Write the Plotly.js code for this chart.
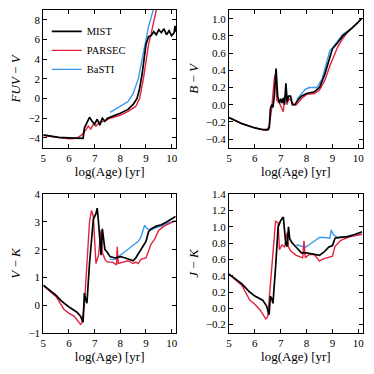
<!DOCTYPE html>
<html>
<head>
<meta charset="utf-8">
<script src="https://cdn.plot.ly/plotly-3.0.1.min.js"></script>
<style>html,body{margin:0;padding:0;background:#fff}#chart{width:374px;height:374px}</style>
</head>
<body>
<div id="chart"></div>
<script>
// ---------- FUV - V ----------
const fuvMistX = [5.0,5.3,5.6,6.0,6.3,6.55,6.6,6.7,6.8,6.9,7.0,7.1,7.2,7.3,7.4,7.5,7.7,8.0,8.3,8.5,8.65,8.75,8.85,8.92,9.0,9.1,9.2,9.3,9.4,9.5,9.6,9.7,9.8,9.9,10.0,10.1,10.13,10.15];
const fuvMistY = [-3.7,-3.85,-3.95,-4.0,-4.05,-4.05,-3.0,-2.4,-1.9,-2.3,-2.6,-2.1,-2.7,-2.0,-2.3,-2.0,-1.8,-1.5,-1.1,-0.6,0.0,1.0,2.5,4.0,5.5,6.3,6.4,6.8,6.5,7.0,6.7,7.1,6.5,6.9,6.4,6.7,7.4,6.8];
const fuvParX = [5.0,5.4,5.8,6.0,6.3,6.5,6.65,6.75,6.85,6.95,7.05,7.2,7.4,7.6,8.0,8.3,8.6,8.75,8.9,9.0,9.1,9.2,9.32,9.42];
const fuvParY = [-3.75,-3.9,-4.05,-4.1,-4.05,-3.7,-3.2,-2.8,-3.1,-2.6,-2.8,-2.4,-2.3,-2.0,-1.7,-1.3,-0.8,0.0,2.0,4.0,5.5,6.6,8.0,9.2];
const fuvBasX = [7.6,8.0,8.3,8.5,8.7,8.85,9.0,9.1,9.3];
const fuvBasY = [-1.4,-0.8,-0.3,0.5,2.0,4.0,6.0,7.3,9.2];

// ---------- B - V ----------
const bvMistX = [5.0,5.5,6.0,6.3,6.52,6.56,6.6,6.65,6.7,6.75,6.82,6.88,6.95,7.0,7.05,7.1,7.15,7.2,7.25,7.3,7.38,7.45,7.55,7.65,7.8,8.0,8.3,8.5,8.7,8.9,9.0,9.2,9.4,9.6,9.8,10.0,10.12];
const bvMistY = [-0.15,-0.22,-0.27,-0.29,-0.29,-0.26,-0.05,0.0,-0.03,0.1,0.42,0.1,0.02,0.07,0.02,0.08,0.0,0.25,0.03,0.1,0.1,0.0,0.0,0.05,0.1,0.13,0.15,0.2,0.35,0.55,0.65,0.72,0.8,0.85,0.9,0.96,1.0];
const bvParX = [5.0,5.5,6.0,6.45,6.55,6.65,6.75,6.8,6.85,6.95,7.05,7.1,7.15,7.2,7.25,7.3,7.4,7.5,7.6,7.8,8.0,8.3,8.5,8.7,8.9,9.1,9.2,9.4,9.6,9.8,10.0,10.12];
const bvParY = [-0.15,-0.22,-0.27,-0.3,-0.25,-0.05,0.3,0.36,0.05,0.02,-0.05,-0.08,0.1,0.1,0.0,0.07,0.05,0.0,0.0,0.07,0.12,0.13,0.17,0.28,0.45,0.6,0.67,0.77,0.85,0.9,0.96,1.0];
const bvBasX = [7.62,7.8,7.95,8.1,8.4,8.6,8.75,8.9,9.0,9.2,9.4,9.6,9.8,10.0,10.12];
const bvBasY = [0.06,0.12,0.18,0.2,0.2,0.3,0.45,0.63,0.66,0.74,0.82,0.86,0.9,0.96,1.0];

// ---------- V - K ----------
const vkMistX = [5.0,5.5,5.7,6.0,6.3,6.45,6.55,6.6,6.65,6.7,6.8,6.9,6.95,7.05,7.1,7.15,7.2,7.25,7.3,7.35,7.4,7.5,7.6,7.8,8.0,8.2,8.4,8.5,8.6,8.7,8.8,8.9,9.0,9.1,9.2,9.4,9.6,9.8,10.0,10.15];
const vkMistY = [0.72,0.35,0.15,-0.07,-0.25,-0.4,-0.62,0.43,0.2,0.07,1.5,2.5,3.1,3.3,3.5,3.0,2.2,1.8,2.75,2.3,2.0,1.9,1.75,1.7,1.75,1.7,1.65,1.6,1.7,1.85,2.0,2.1,2.3,2.65,2.75,2.85,2.9,3.0,3.1,3.2];
const vkParX = [5.0,5.5,5.8,6.0,6.2,6.35,6.45,6.5,6.6,6.7,6.8,6.88,6.95,7.05,7.15,7.25,7.3,7.4,7.5,7.7,7.85,7.88,7.92,8.1,8.3,8.5,8.6,8.7,8.8,9.0,9.2,9.35,9.5,9.7,9.9,10.15];
const vkParY = [0.7,0.3,-0.15,-0.3,-0.4,-0.6,-0.7,-0.65,0.0,1.5,3.0,3.42,3.2,1.5,1.8,2.7,1.9,1.65,1.55,1.55,1.45,2.1,1.5,1.55,1.6,1.5,1.55,1.5,1.65,1.7,2.2,2.4,2.7,2.85,2.95,3.05];
const vkBasX = [7.6,7.8,8.0,8.2,8.4,8.6,8.7,8.8,8.95,9.05,9.2,9.4,9.6,9.8,10.15];
const vkBasY = [1.65,1.65,1.8,1.95,2.1,2.25,2.3,2.45,2.88,2.75,2.72,2.8,2.85,2.95,3.05];

// ---------- J - K ----------
const jkMistX = [5.0,5.5,5.8,6.0,6.3,6.45,6.55,6.6,6.65,6.7,6.8,6.9,7.0,7.1,7.15,7.2,7.25,7.3,7.35,7.45,7.6,7.8,8.0,8.2,8.4,8.5,8.7,8.85,9.0,9.1,9.3,9.6,9.8,10.0,10.15];
const jkMistY = [0.42,0.3,0.2,0.15,0.1,0.03,-0.08,0.15,0.12,0.06,0.5,1.0,1.08,1.12,0.95,0.78,0.76,1.0,0.85,0.8,0.75,0.68,0.68,0.67,0.66,0.65,0.7,0.75,0.77,0.86,0.87,0.88,0.9,0.92,0.94];
const jkParX = [5.0,5.5,5.8,6.0,6.2,6.35,6.42,6.5,6.6,6.7,6.8,6.9,6.95,7.05,7.15,7.25,7.3,7.4,7.6,7.85,7.9,7.95,8.1,8.3,8.5,8.6,8.8,9.0,9.1,9.3,9.5,9.7,10.15];
const jkParY = [0.42,0.28,0.1,0.05,-0.02,-0.1,-0.13,-0.1,0.3,0.6,1.07,1.05,0.72,0.78,0.75,0.93,0.75,0.7,0.65,0.62,0.83,0.62,0.66,0.66,0.58,0.6,0.62,0.64,0.76,0.83,0.86,0.88,0.91];
const jkBasX = [7.6,7.8,7.95,8.1,8.3,8.5,8.7,8.9,8.95,9.05,9.2,9.5,9.8,10.15];
const jkBasY = [0.78,0.76,0.75,0.78,0.82,0.87,0.87,0.86,0.96,0.9,0.87,0.88,0.9,0.91];

const names = ["MIST","PARSEC","BaSTI"];
const colors = ["#000000","#e3213c","#3a99ee"];
const widths = [1.7,1.4,1.4];

const panels = [
  {ax:"",  data:[[fuvMistX,fuvMistY],[fuvParX,fuvParY],[fuvBasX,fuvBasY]]},
  {ax:"2", data:[[bvMistX,bvMistY],[bvParX,bvParY],[bvBasX,bvBasY]]},
  {ax:"3", data:[[vkMistX,vkMistY],[vkParX,vkParY],[vkBasX,vkBasY]]},
  {ax:"4", data:[[jkMistX,jkMistY],[jkParX,jkParY],[jkBasX,jkBasY]]}
];

const traces = [];
panels.forEach((p,pi)=>{
  // draw order: BaSTI, PARSEC, MIST on top
  [2,1,0].forEach(k=>{
    traces.push({
      x:p.data[k][0], y:p.data[k][1], type:"scatter", mode:"lines",
      xaxis:"x"+p.ax, yaxis:"y"+p.ax, name:names[k],
      line:{color:colors[k], width:widths[k]},
      showlegend: pi===0, legendrank: k
    });
  });
});

const F = "Liberation Serif, Times New Roman, serif";
function xa(dom, anchor){
  return {domain:dom, anchor:anchor, range:[5,10.17], dtick:1, tick0:5,
    ticks:"inside", ticklen:4, tickwidth:1, tickcolor:"#000",
    showline:true, linecolor:"#000", linewidth:1, mirror:"allticks",
    showgrid:false, zeroline:false, tickfont:{family:F,size:11,color:"#000"},
    title:{text:"log(Age) [yr]", font:{family:F,size:13,color:"#000"}, standoff:2}};
}
function ya(dom, anchor, range, dtick, title, fmt){
  return {domain:dom, anchor:anchor, range:range, dtick:dtick,
    ticks:"inside", ticklen:4, tickwidth:1, tickcolor:"#000",
    showline:true, linecolor:"#000", linewidth:1, mirror:"allticks",
    showgrid:false, zeroline:false, tickformat:fmt, tickfont:{family:F,size:11,color:"#000"},
    title:{text:title, font:{family:F,size:13,color:"#000"}, standoff:4}};
}
const dxL=[0.1158,0.4706], dxR=[0.6123,0.9698];
const dyT=[0.605,0.973], dyB=[0.1104,0.4805];

const layout = {
  width:374, height:374, margin:{l:0,r:0,t:0,b:0},
  paper_bgcolor:"#fff", plot_bgcolor:"#fff",
  showlegend:true,
  legend:{x:0.125, y:0.955, xanchor:"left", yanchor:"top", bgcolor:"rgba(0,0,0,0)",
    font:{family:F,size:10.5,color:"#000"}, itemwidth:30, tracegroupgap:0, traceorder:"normal"},
  xaxis: xa(dxL,"y"),
  yaxis: ya(dyT,"x",[-5,9],2,"<i>FUV</i> − <i>V</i>",""),
  xaxis2: xa(dxR,"y2"),
  yaxis2: ya(dyT,"x2",[-0.5,1.1],0.2,"<i>B</i> − <i>V</i>",".1f"),
  xaxis3: xa(dxL,"y3"),
  yaxis3: ya(dyB,"x3",[-1,4],1,"<i>V</i> − <i>K</i>",""),
  xaxis4: xa(dxR,"y4"),
  yaxis4: ya(dyB,"x4",[-0.3,1.4],0.2,"<i>J</i> − <i>K</i>",".1f")
};
layout.yaxis4.tick0 = -0.2;
layout.yaxis2.tick0 = -0.4;

Plotly.newPlot("chart", traces, layout, {displayModeBar:false, staticPlot:true});
</script>
</body>
</html>
